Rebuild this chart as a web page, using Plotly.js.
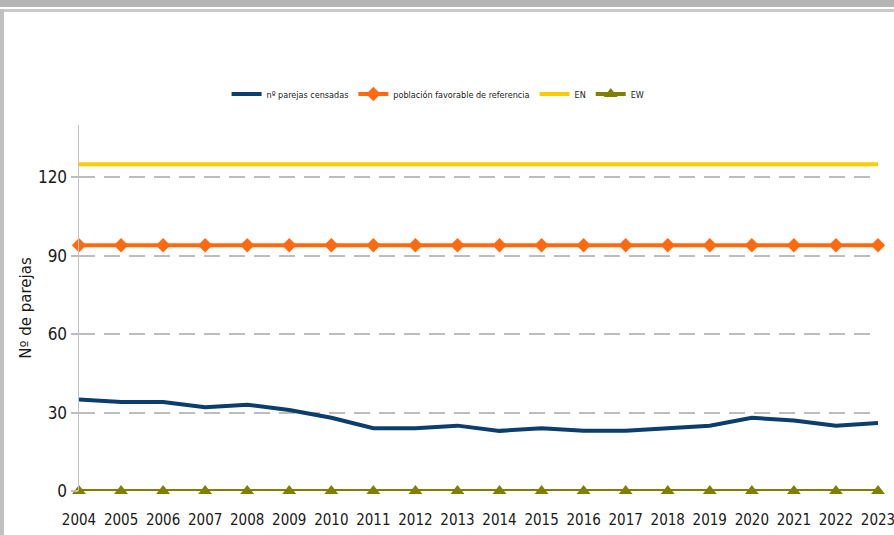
<!DOCTYPE html>
<html><head><meta charset="utf-8">
<script src="https://cdn.plot.ly/plotly-3.0.1.min.js"></script>
<style>
html,body{margin:0;padding:0;background:#fff;overflow:hidden}
#wrap{position:relative;width:894px;height:535px}
#chart{position:absolute;left:0;top:0;width:894px;height:535px}
.fr{position:absolute;pointer-events:none}
#chart .xtick text, #chart .ytick text, #chart .legendtext{font-stretch:condensed}
</style></head>
<body>
<div id="wrap">
<div id="chart"></div>
<div class="fr" style="left:0;top:0;width:894px;height:7px;background:#b5b5b5"></div>
<div class="fr" style="left:0;top:9px;width:894px;height:3px;background:#c8c8c8"></div>
<div class="fr" style="left:0;top:9px;width:4px;height:526px;background:#c0c0c0"></div>
</div>
<script>
const years = [2004,2005,2006,2007,2008,2009,2010,2011,2012,2013,2014,2015,2016,2017,2018,2019,2020,2021,2022,2023];
const parejasCensadas = [35,34,34,32,33,31,28,24,24,25,23,24,23,23,24,25,28,27,25,26];
const poblacionFavorable = [94,94,94,94,94,94,94,94,94,94,94,94,94,94,94,94,94,94,94,94];
const EN = [125,125,125,125,125,125,125,125,125,125,125,125,125,125,125,125,125,125,125,125];
const EW = [0,0,0,0,0,0,0,0,0,0,0,0,0,0,0,0,0,0,0,0];
const yTicks = [0,30,60,90,120];
const seriesNames = ['nº parejas censadas','población favorable de referencia','EN','EW'];

const condFont = 'DejaVu Sans Condensed, DejaVu Sans, sans-serif';

const traces = [
  {x: years, y: parejasCensadas, name: seriesNames[0], mode: 'lines',
   line: {color: '#0b3d6f', width: 4}, cliponaxis: false},
  {x: years, y: poblacionFavorable, name: seriesNames[1], mode: 'lines+markers',
   line: {color: '#ff6a10', width: 4}, marker: {symbol: 'diamond', size: 11, color: '#ff6a10'}, cliponaxis: false},
  {x: years, y: EN, name: seriesNames[2], mode: 'lines',
   line: {color: '#ffcc00', width: 4}, cliponaxis: false},
  {x: years, y: EW, name: seriesNames[3], mode: 'lines+markers',
   line: {color: '#808000', width: 4}, marker: {symbol: 'triangle-up', size: 12, color: '#808000'}, cliponaxis: false}
];

const layout = {
  width: 894, height: 535,
  margin: {l: 79, r: 16, t: 125, b: 44},
  paper_bgcolor: '#ffffff', plot_bgcolor: '#ffffff',
  showlegend: true,
  legend: {orientation: 'h', x: 0.49, xanchor: 'center', xref: 'container', y: 1 - 94/535, yref: 'container', yanchor: 'middle',
    font: {family: condFont, size: 9, color: '#222'},
    tracegroupgap: 0, itemwidth: 30, traceorder: 'normal'},
  xaxis: {range: [2004, 2023], tickmode: 'array', tickvals: years, ticktext: years.map(String),
    showgrid: false, zeroline: false, showline: false, ticks: '',
    ticklabelstandoff: 18, ticklabeloverflow: 'allow',
    tickfont: {family: condFont, size: 15, color: '#1a1a1a'},
    fixedrange: true},
  yaxis: {range: [0, 140], tickmode: 'array', tickvals: yTicks, ticktext: yTicks.map(String),
    showgrid: true, gridcolor: '#bdbdbd', gridwidth: 2, griddash: '16px,9px',
    zeroline: false, showline: true, linecolor: '#c4c4c4', linewidth: 1.5,
    ticks: 'outside', ticklen: 7, tickcolor: '#bdbdbd', tickwidth: 2,
    tickfont: {family: condFont, size: 17, color: '#1a1a1a'},
    title: {text: 'Nº de parejas', font: {family: 'DejaVu Sans, Verdana, sans-serif', size: 15, color: '#1a1a1a'}, standoff: 2},
    fixedrange: true},
  hovermode: false
};

Plotly.newPlot('chart', traces, layout, {displayModeBar: false, staticPlot: true});
</script>
</body></html>
